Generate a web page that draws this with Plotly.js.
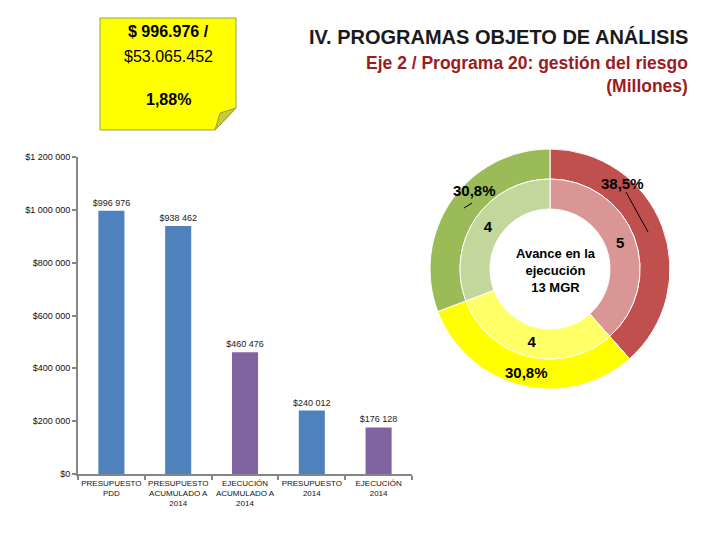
<!DOCTYPE html>
<html><head><meta charset="utf-8">
<script src="https://cdn.plot.ly/plotly-3.0.1.min.js"></script>
<style>html,body{margin:0;padding:0;background:#fff}#chart{width:720px;height:540px}</style>
</head><body><div id="chart"></div>
<script>
// ---- data ----
const barCategories = ["PRESUPUESTO<br>PDD", "PRESUPUESTO<br>ACUMULADO A<br>2014", "EJECUCIÓN<br>ACUMULADO A<br>2014", "PRESUPUESTO<br>2014", "EJECUCIÓN<br>2014"];
const barValues = [996976, 938462, 460476, 240012, 176128];
const barColors = ["#4F81BD", "#4F81BD", "#8064A2", "#4F81BD", "#8064A2"];
const yTicks = [0, 200000, 400000, 600000, 800000, 1000000, 1200000];
const donutLabels = ["Rojo", "Amarillo", "Verde"];
const donutValues = [5, 4, 4];
const outerColors = ["#C0504D", "#FFFF00", "#9BBB59"];
const innerColors = ["#D99694", "#FFFF66", "#C3D69B"];
const noteLines = ["$ 996.976 /", "$53.065.452", "1,88%"];
const titleText = "IV. PROGRAMAS OBJETO DE ANÁLISIS";
const subtitleText = "Eje 2 / Programa 20: gestión del riesgo<br>(Millones)";
const centerText = "Avance en la<br>ejecución<br>13 MGR";

const W = 720, H = 540;
const px = x => x / W, py = y => 1 - y / H;
const total = donutValues.reduce((a, b) => a + b, 0);
const pct = v => (v / total * 100).toFixed(1).replace('.', ',') + '%';
const money = v => '$' + String(Math.round(v)).replace(/\B(?=(\d{3})+(?!\d))/g, ' ');

const traces = [
  {
    type: 'bar', x: barCategories, y: barValues,
    marker: {color: barColors},
    text: barValues.map(money), texttemplate: '%{text}', textposition: 'outside',
    constraintext: 'none',
    textfont: {family: 'Liberation Sans, Arial', size: 9, color: '#222'},
    cliponaxis: false, hoverinfo: 'none'
  },
  {
    type: 'pie', labels: donutLabels, values: donutValues, sort: false,
    direction: 'clockwise', rotation: 0, hole: 0.75,
    marker: {colors: outerColors, line: {color: '#fff', width: 1}},
    textinfo: 'none', showlegend: false,
    domain: {x: [px(430), px(670)], y: [py(389), py(149)]}
  },
  {
    type: 'pie', labels: donutLabels, values: donutValues, sort: false,
    direction: 'clockwise', rotation: 0, hole: 0.667,
    marker: {colors: innerColors, line: {color: '#fff', width: 1}},
    texttemplate: '%{value}', textposition: 'inside', insidetextorientation: 'horizontal',
    textfont: {family: 'Liberation Sans, Arial', size: 15, color: '#000', weight: 'bold'},
    showlegend: false,
    domain: {x: [px(460), px(640)], y: [py(359), py(179)]}
  }
];

const notePath = `M ${px(100)} ${py(18)} L ${px(236)} ${py(18)} L ${px(236)} ${py(108)} L ${px(215)} ${py(130)} L ${px(100)} ${py(130)} Z`;
const foldPath = `M ${px(236)} ${py(108)} L ${px(215)} ${py(130)} L ${px(220)} ${py(113)} Z`;

const layout = {
  width: W, height: H,
  margin: {l: 0, r: 0, t: 0, b: 0},
  paper_bgcolor: '#fff', plot_bgcolor: '#fff',
  showlegend: false,
  bargap: 0.61,
  xaxis: {
    domain: [px(78), px(412)], automargin: false,
    type: 'category', showline: true, linecolor: '#868686', linewidth: 2,
    ticks: 'outside', tickson: 'boundaries', ticklen: 4, tickcolor: '#868686', tickwidth: 2,
    tickangle: 0,
    tickfont: {family: 'Liberation Sans, Arial', size: 8, color: '#111'},
    showgrid: false, zeroline: false, fixedrange: true
  },
  yaxis: {
    domain: [py(474), py(157)], automargin: false,
    range: [0, 1200000], tickmode: 'array', tickvals: yTicks, ticktext: yTicks.map(money),
    showline: true, linecolor: '#868686', linewidth: 2,
    ticks: 'outside', ticklen: 4, tickcolor: '#868686', tickwidth: 2,
    tickfont: {family: 'Liberation Sans, Arial', size: 9, color: '#111'},
    showgrid: false, zeroline: false, fixedrange: true
  },
  shapes: [
    {type: 'path', xref: 'paper', yref: 'paper', path: notePath, fillcolor: '#FFFF00', line: {color: '#8DA34A', width: 1}},
    {type: 'path', xref: 'paper', yref: 'paper', path: foldPath, fillcolor: '#C9C93A', line: {color: '#8DA34A', width: 1}},
    {type: 'line', xref: 'paper', yref: 'paper', x0: px(626), y0: py(192), x1: px(648), y1: py(232), line: {color: '#000', width: 1}},
    {type: 'line', xref: 'paper', yref: 'paper', x0: px(464), y0: py(208), x1: px(472), y1: py(203), line: {color: '#000', width: 1}}
  ],
  annotations: [
    {xref: 'paper', yref: 'paper', x: px(168), y: py(32), text: '<b>' + noteLines[0] + '</b>', showarrow: false, xanchor: 'center', yanchor: 'middle',
     font: {family: 'Liberation Sans, Arial', size: 16, color: '#000'}},
    {xref: 'paper', yref: 'paper', x: px(168), y: py(56), text: noteLines[1], showarrow: false, xanchor: 'center', yanchor: 'middle',
     font: {family: 'Liberation Sans, Arial', size: 16, color: '#000'}},
    {xref: 'paper', yref: 'paper', x: px(168), y: py(100), text: '<b>' + noteLines[2] + '</b>', showarrow: false, xanchor: 'center', yanchor: 'middle',
     font: {family: 'Liberation Sans, Arial', size: 16, color: '#000'}},
    {xref: 'paper', yref: 'paper', x: px(690), y: py(37), text: '<b>' + titleText + '</b>', showarrow: false, xanchor: 'right', yanchor: 'middle',
     font: {family: 'Liberation Sans, Arial', size: 20, color: '#1a1a1a'}},
    {xref: 'paper', yref: 'paper', x: px(690), y: py(74), text: '<b>' + subtitleText + '</b>', showarrow: false, xanchor: 'right', yanchor: 'middle', align: 'right',
     font: {family: 'Liberation Sans, Arial', size: 17.5, color: '#9B1B1E'}},
    {xref: 'paper', yref: 'paper', x: px(556), y: py(270), text: '<b>' + centerText + '</b>', showarrow: false, xanchor: 'center', yanchor: 'middle', align: 'center',
     font: {family: 'Liberation Sans, Arial', size: 13, color: '#000'}},
    {xref: 'paper', yref: 'paper', x: px(622), y: py(183), text: '<b>' + pct(donutValues[0]) + '</b>', showarrow: false, xanchor: 'center', yanchor: 'middle',
     font: {family: 'Liberation Sans, Arial', size: 15, color: '#000'}},
    {xref: 'paper', yref: 'paper', x: px(526), y: py(372), text: '<b>' + pct(donutValues[1]) + '</b>', showarrow: false, xanchor: 'center', yanchor: 'middle',
     font: {family: 'Liberation Sans, Arial', size: 15, color: '#000'}},
    {xref: 'paper', yref: 'paper', x: px(474), y: py(190), text: '<b>' + pct(donutValues[2]) + '</b>', showarrow: false, xanchor: 'center', yanchor: 'middle',
     font: {family: 'Liberation Sans, Arial', size: 15, color: '#000'}}
  ]
};

Plotly.newPlot('chart', traces, layout, {staticPlot: true, displayModeBar: false});
</script>
</body></html>
